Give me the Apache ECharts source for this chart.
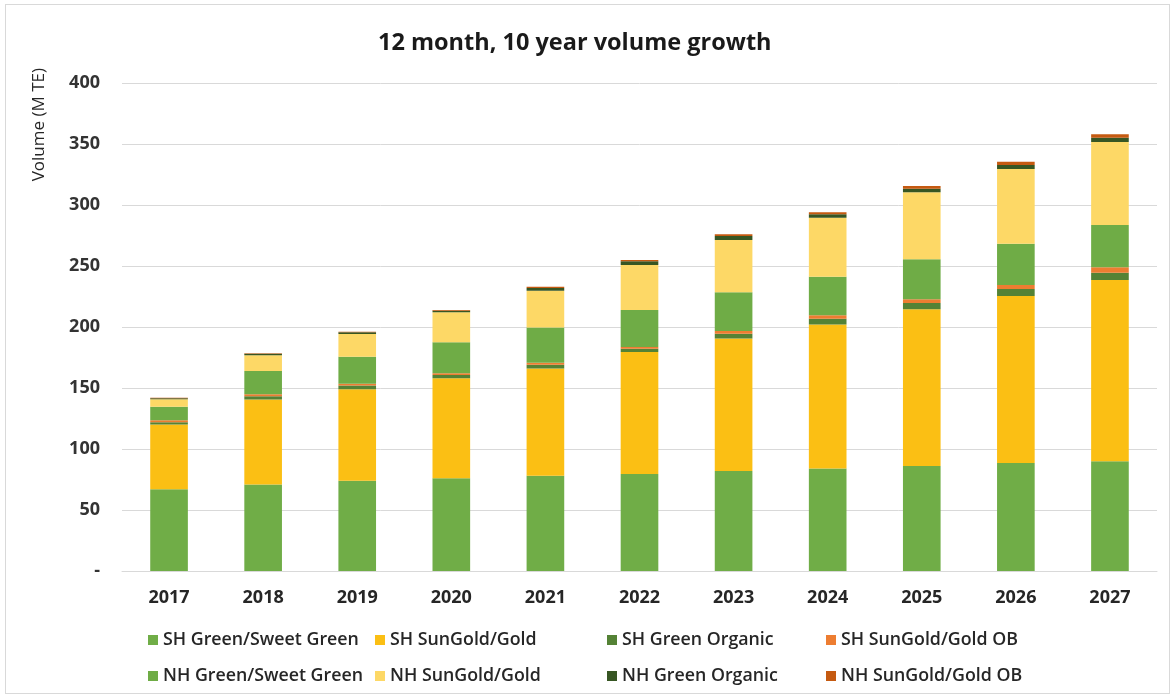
<!DOCTYPE html>
<html>
<head>
<meta charset="utf-8">
<script src="https://cdn.jsdelivr.net/npm/echarts@6/dist/echarts.min.js"></script>
<style>
html,body{margin:0;padding:0;background:#fff;}
#frame{position:absolute;left:5px;top:4px;width:1165px;height:690px;border:1px solid #d9d9d9;box-sizing:border-box;}
#chart{position:absolute;left:0;top:0;width:1176px;height:699px;}
</style>
</head>
<body>
<div id="frame"></div>
<div id="chart"></div>
<script>
const categories = ['2017','2018','2019','2020','2021','2022','2023','2024','2025','2026','2027'];
const shGreen      = [67, 71, 74, 76, 78, 79.5, 82, 84, 86, 88.5, 90];
const shSunGold    = [53, 69.5, 75, 82, 88, 100, 108.5, 118, 128.5, 137, 148.5];
const shOrganic    = [2, 2.7, 3, 2.7, 3, 2.7, 4, 4.7, 5.2, 5.7, 6];
const shSunGoldOB  = [1.5, 1.6, 1.4, 1.3, 1.7, 1.4, 2.2, 3, 3, 3.3, 4.4];
const nhGreen      = [11.2, 19.2, 22.3, 25.4, 28.8, 30.3, 31.7, 31.5, 32.8, 33.8, 34.7];
const nhSunGold    = [6, 12.8, 18.6, 24.6, 30.3, 36.9, 42.9, 48.4, 54.9, 61.2, 68];
const nhOrganic    = [1, 1.2, 1.3, 1.4, 2.2, 3, 3.2, 2.8, 3, 3.3, 3.6];
const nhSunGoldOB  = [0.3, 0.4, 0.5, 0.5, 1, 1.1, 1.5, 1.6, 2.2, 2.7, 2.7];
const yTicks = [0, 50, 100, 150, 200, 250, 300, 350, 400];

const seriesDefs = [
  ['SH Green/Sweet Green', shGreen, '#70AD47'],
  ['SH SunGold/Gold', shSunGold, '#FBBF14'],
  ['SH Green Organic', shOrganic, '#548235'],
  ['SH SunGold/Gold OB', shSunGoldOB, '#ED7D31'],
  ['NH Green/Sweet Green', nhGreen, '#6FAC46'],
  ['NH SunGold/Gold', nhSunGold, '#FDD866'],
  ['NH Green Organic', nhOrganic, '#375623'],
  ['NH SunGold/Gold OB', nhSunGoldOB, '#C55A11']
];

const legendPos = [
  [148, 631], [375, 631], [607, 631], [826, 631],
  [148, 667], [375, 667], [607, 667], [826, 667]
];

const chart = echarts.init(document.getElementById('chart'), null, {renderer: 'canvas'});
const font = '"Open Sans", "Noto Sans", sans-serif';

const option = {
  backgroundColor: 'transparent',
  animation: false,
  title: {
    text: '12 month, 10 year volume growth',
    left: 378,
    top: 31,
    padding: 0,
    textStyle: {fontFamily: font, fontSize: 23.5, fontWeight: 'bold', color: '#1a1a1a'}
  },
  legend: seriesDefs.map((s, i) => ({
    data: [s[0]],
    left: legendPos[i][0],
    top: legendPos[i][1],
    icon: 'rect',
    itemWidth: 10,
    itemHeight: 10,
    itemGap: 6,
    padding: 0,
    textStyle: {fontFamily: font, fontSize: 17.8, color: '#262626', fontWeight: 600}
  })),
  grid: {left: 122, right: 19, top: 83, bottom: 128, containLabel: false},
  xAxis: {
    type: 'category',
    data: categories,
    axisLine: {lineStyle: {color: '#d9d9d9'}},
    axisTick: {show: false},
    axisLabel: {fontFamily: font, fontSize: 18, fontWeight: 'bold', color: '#262626', margin: 18}
  },
  yAxis: {
    type: 'value',
    min: yTicks[0],
    max: yTicks[yTicks.length - 1],
    interval: yTicks[1] - yTicks[0],
    name: 'Volume (M TE)',
    nameLocation: 'end',
    nameRotate: 90,
    nameGap: 0,
    nameTextStyle: {fontFamily: font, fontSize: 17, color: '#262626', align: 'right', verticalAlign: 'bottom', padding: [0, -15, 74, 0]},
    axisLine: {show: false},
    axisTick: {show: false},
    splitLine: {lineStyle: {color: '#d9d9d9', width: 1}},
    axisLabel: {
      fontFamily: font, fontSize: 18, fontWeight: 'bold', color: '#333333', margin: 22,
      formatter: v => v === 0 ? '-' : String(v)
    }
  },
  series: seriesDefs.map(s => ({
    name: s[0],
    type: 'bar',
    stack: 'total',
    data: s[1],
    barWidth: '40%',
    itemStyle: {color: s[2]},
    emphasis: {disabled: true}
  }))
};
chart.setOption(option);
</script>
</body>
</html>
